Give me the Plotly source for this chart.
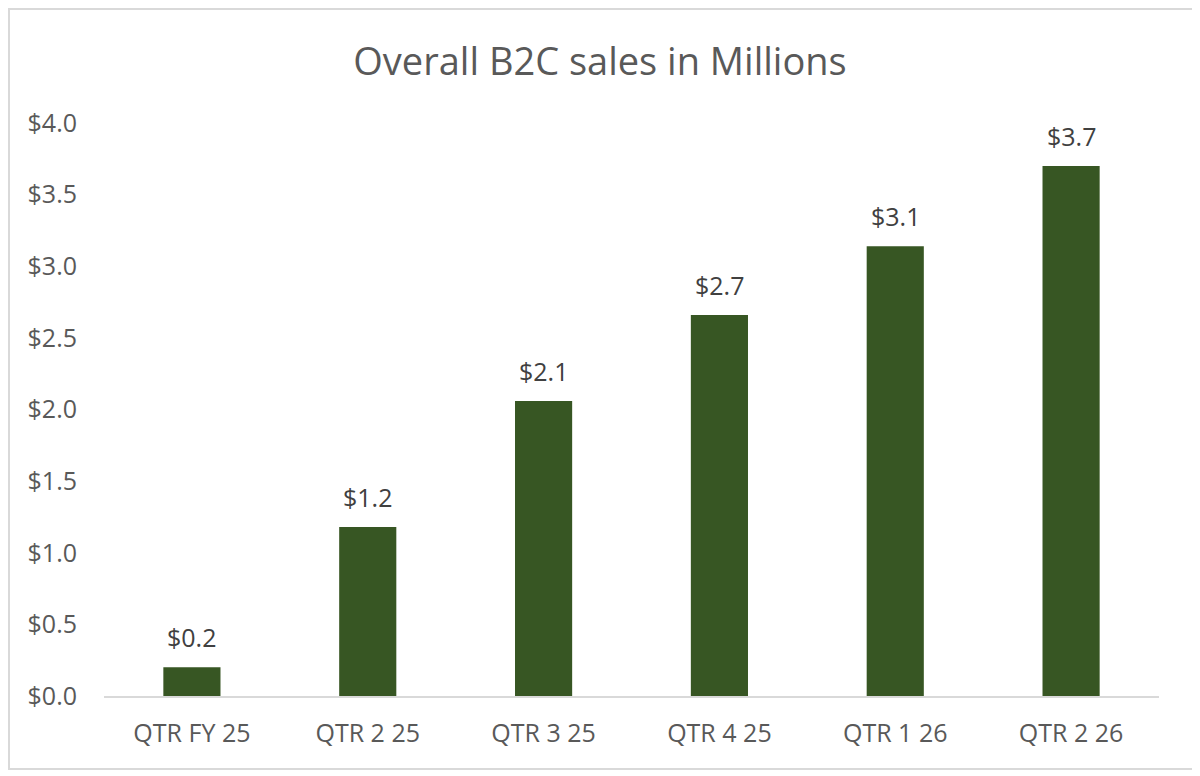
import plotly.graph_objects as go

# quarters and B2C sales (millions of dollars)
quarters = ["QTR FY 25", "QTR 2 25", "QTR 3 25", "QTR 4 25", "QTR 1 26", "QTR 2 26"]
sales = [0.2, 1.18, 2.06, 2.66, 3.14, 3.70]
y_ticks = [0.0, 0.5, 1.0, 1.5, 2.0, 2.5, 3.0, 3.5, 4.0]

# page body has an 8px margin, so the figure is laid out 8px up/left of the reference
W, H = 1200, 776
L, R, T, B = 96, 49, 115, 88
grey = "#595959"
font = "Open Sans, Liberation Sans, sans-serif"

fig = go.Figure()
fig.add_trace(go.Bar(
    x=quarters,
    y=sales,
    marker=dict(color="#375623", line=dict(width=0)),
    hoverinfo="x+y",
))

# value labels above the bars
for q, v in zip(quarters, sales):
    fig.add_annotation(x=q, y=v, text="$%.1f" % v, showarrow=False,
                       yanchor="bottom", yshift=11,
                       font=dict(size=25, color="#404040", family=font))

# light frame around the whole chart (pixel -> paper)
pw, ph = W - L - R, H - T - B
fig.add_shape(type="rect", xref="paper", yref="paper",
              x0=(1 - L) / pw, x1=(1185 - L) / pw,
              y0=(H - B - 761) / ph, y1=(H - B - 1) / ph,
              line=dict(color="#d9d9d9", width=2))

fig.update_layout(
    width=W, height=H,
    margin=dict(l=L, r=R, t=T, b=B),
    paper_bgcolor="white", plot_bgcolor="white",
    title=dict(text="Overall B2C sales in Millions", x=592 / W, xanchor="center",
               y=1 - 54 / H, yanchor="middle", xref="container",
               font=dict(size=38, color=grey, family=font)),
    bargap=0.675,
    showlegend=False,
    font=dict(family=font, color=grey),
)
fig.update_xaxes(showgrid=False, showline=True, linecolor="#d9d9d9", linewidth=1.5,
                 ticks="", tickfont=dict(size=25, color=grey), ticklabelstandoff=14)
fig.update_yaxes(range=[0, 4], tickvals=y_ticks, ticktext=["$%.1f" % t for t in y_ticks],
                 showgrid=False, zeroline=False, showline=False, ticks="",
                 tickfont=dict(size=25, color=grey), ticklabelstandoff=26)

fig.write_html("out.html")
